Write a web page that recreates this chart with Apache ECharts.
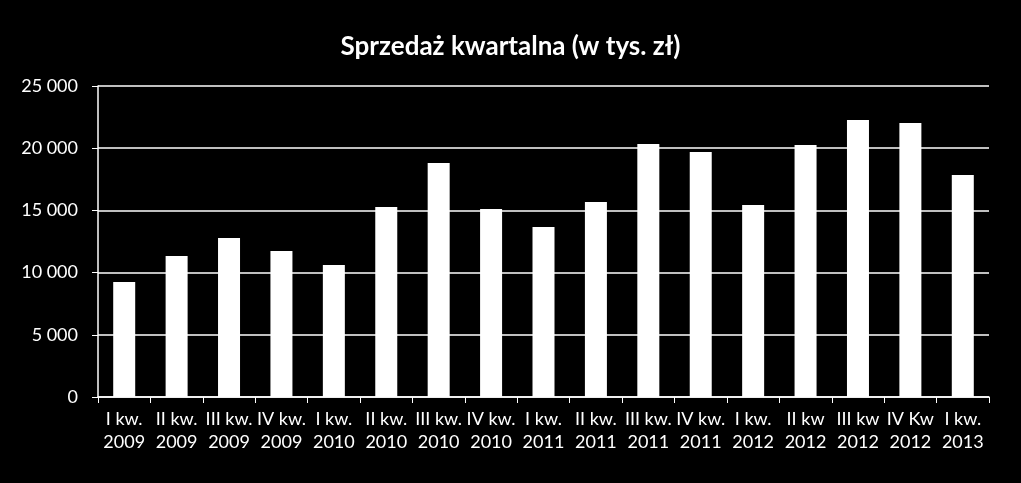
<!DOCTYPE html>
<html><head><meta charset="utf-8">
<script src="https://cdn.jsdelivr.net/npm/echarts@6/dist/echarts.min.js"></script>
<style>html,body{margin:0;padding:0;background:#000;}#c{width:1021px;height:483px;}</style>
</head><body><div id="c"></div>
<script>
const categories = ["I kw.\n2009","II kw.\n2009","III kw.\n2009","IV kw.\n2009","I kw.\n2010","II kw.\n2010","III kw.\n2010","IV kw.\n2010","I kw.\n2011","II kw.\n2011","III kw.\n2011","IV kw.\n2011","I kw.\n2012","II kw\n2012","III kw\n2012","IV Kw\n2012","I kw.\n2013"];
const sales = [9250,11330,12780,11740,10610,15270,18810,15110,13670,15680,20340,19690,15430,20260,22270,22030,17850];
const yTicks = {min:0,max:25000,interval:5000};
const font = "Lato, 'Open Sans', sans-serif";
const chart = echarts.init(document.getElementById('c'));
chart.setOption({
  backgroundColor:'#000',
  animation:false,
  title:{text:'Sprzedaż kwartalna (w tys. zł)',left:'center',top:29,textStyle:{color:'#fff',fontSize:26,fontWeight:'bold',fontFamily:font}},
  grid:{left:98,right:32,top:86,bottom:86},
  xAxis:{type:'category',data:categories,
    axisLine:{lineStyle:{color:'#fff',width:1.5}},
    axisTick:{show:true,alignWithLabel:false,length:6,lineStyle:{color:'#fff'}},
    axisLabel:{color:'#fff',fontSize:18,fontFamily:font,lineHeight:23,margin:11,interval:0}},
  yAxis:{type:'value',min:yTicks.min,max:yTicks.max,interval:yTicks.interval,
    axisLine:{show:true,lineStyle:{color:'#fff',width:1.5}},
    axisTick:{show:true,length:6,lineStyle:{color:'#fff'}},
    splitLine:{lineStyle:{color:'#fff',width:1.5}},
    axisLabel:{color:'#fff',fontSize:18,fontFamily:font,margin:20,
      formatter:v=>String(v).replace(/\B(?=(\d{3})+(?!\d))/g,' ')}},
  series:[{type:'bar',data:sales,barWidth:22,itemStyle:{color:'#fff'}}]
});
</script></body></html>
